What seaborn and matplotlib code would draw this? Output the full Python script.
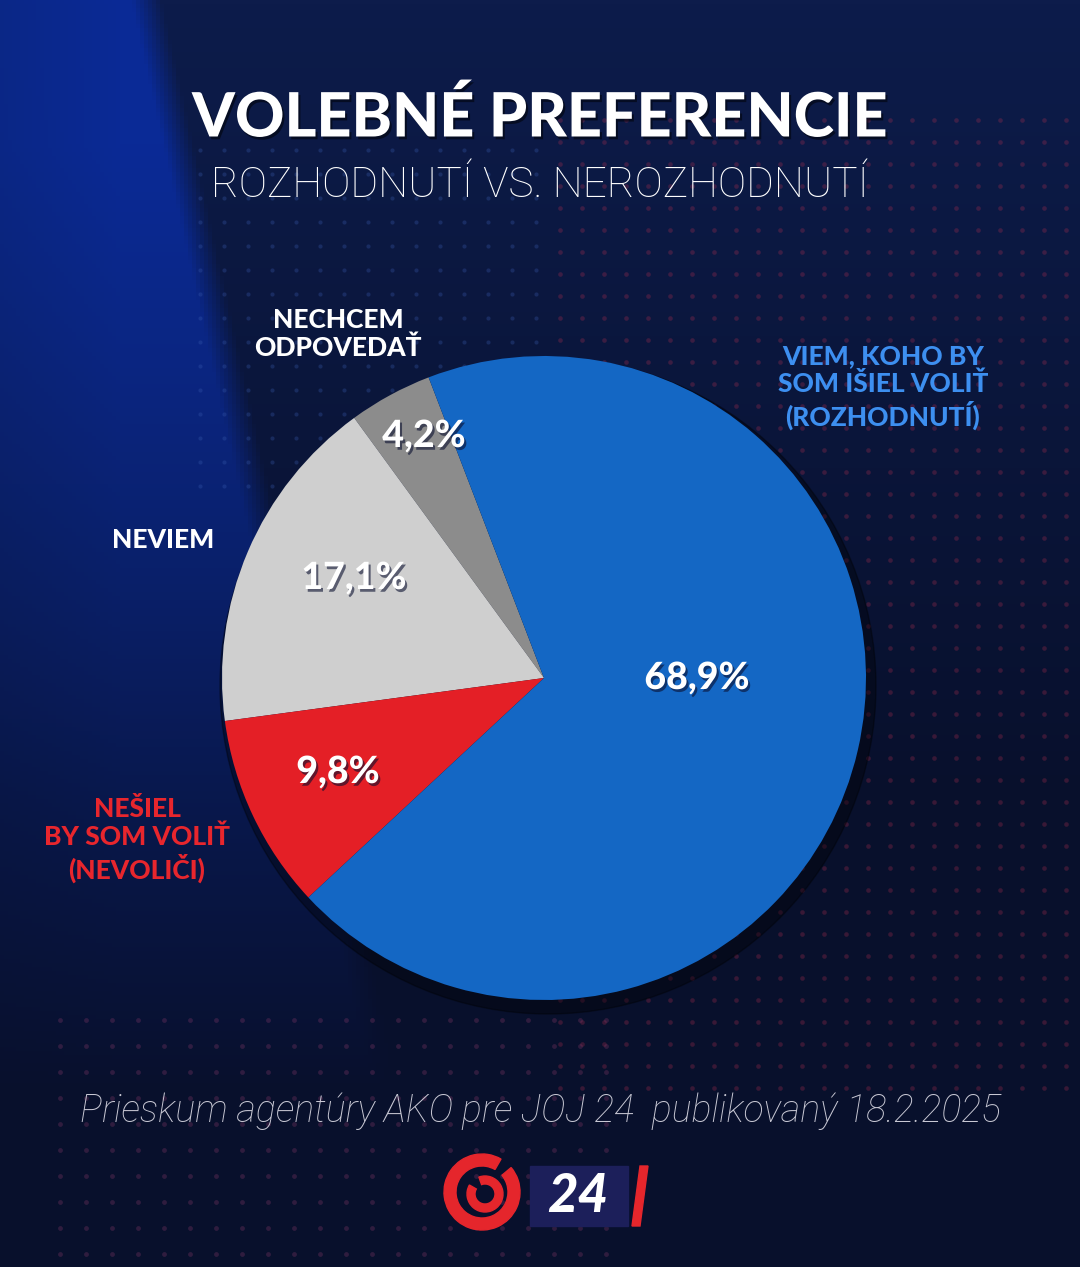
import numpy as np
import seaborn as sns
import matplotlib.pyplot as plt
import matplotlib.patheffects as pe
from matplotlib.patches import Wedge, Rectangle, Polygon, Circle

# data
labels = ["NECHCEM\nODPOVEDAŤ", "NEVIEM", "NEŠIEL\nBY SOM VOLIŤ\n(NEVOLIČI)",
          "VIEM, KOHO BY\nSOM IŠIEL VOLIŤ\n(ROZHODNUTÍ)"]
shares = [4.2, 17.1, 9.8, 68.9]
slice_colors = ["#8c8c8c", "#cfcfcf", "#e41f26", "#1467c4"]
label_colors = ["white", "white", "#e8262d", "#3d8ff0"]
pct_text = ["4,2%", "17,1%", "9,8%", "68,9%"]

title = "VOLEBNÉ PREFERENCIE"
subtitle = "ROZHODNUTÍ VS. NEROZHODNUTÍ"
source = "Prieskum agentúry AKO pre JOJ 24  publikovaný 18.2.2025"

sns.set_theme(style="white")
plt.rcParams['font.family'] = ['Lato', 'DejaVu Sans']

W, H = 1080, 1267
fig = plt.figure(figsize=(W / 100, H / 100), dpi=100)
ax = fig.add_axes([0, 0, 1, 1])
ax.set_xlim(0, W)
ax.set_ylim(0, H)
ax.axis("off")

# background: dark navy with a brighter blue band in the upper left
yy, xx = np.mgrid[0:H:4, 0:W:4]
edge = 145 + yy * 0.22
band = np.clip((edge - xx) / 30 + 0.5, 0, 1) * np.clip(1.15 - yy / 950, 0, 1)
band = np.clip(band, 0, 1) * np.clip(0.8 + xx / 600, 0, 1)
base = np.array([8, 16, 44]) / 255
top = np.array([13, 28, 75]) / 255
blue = np.array([10, 42, 150]) / 255
t = np.clip(1 - yy / 800, 0, 1)[..., None]
img = base * (1 - t) + top * t
img = img * (1 - band[..., None]) + blue * band[..., None]
ax.imshow(img, extent=[0, W, 0, H], origin="upper", aspect="auto", zorder=0)

# decorative dot field
gx, gy = np.meshgrid(np.arange(560, 1080, 22), np.arange(120, 1100, 22))
ax.scatter(gx.ravel(), H - gy.ravel(), s=11, color="#b83050", alpha=0.28, lw=0, zorder=1)
gx2, gy2 = np.meshgrid(np.arange(60, 620, 26), np.arange(1020, 1267, 26))
ax.scatter(gx2.ravel(), H - gy2.ravel(), s=12, color="#8a3a6a", alpha=0.3, lw=0, zorder=1)
gx3, gy3 = np.meshgrid(np.arange(200, 560, 24), np.arange(150, 500, 24))
ax.scatter(gx3.ravel(), H - gy3.ravel(), s=9, color="#3a5cb0", alpha=0.3, lw=0, zorder=1)

# pie
cx, cy, r = 544, H - 678, 322
ax.add_patch(Circle((cx + 4, cy - 8), r + 6, color="black", alpha=0.35, zorder=2))
wedges, _ = ax.pie(shares, colors=slice_colors, startangle=111, counterclock=True,
                   center=(cx, cy), radius=r, frame=True,
                   wedgeprops=dict(linewidth=0))
for w in wedges:
    w.set_zorder(3)
ax.set_xlim(0, W)
ax.set_ylim(0, H)
ax.axis("off")

shadow_fx = [pe.withSimplePatchShadow(offset=(1.5, -2), shadow_rgbFace="#0a1030", alpha=0.6)]
pct_pos = [(424, 436), (354, 578), (338, 772), (697, 678)]
for txt, (x, y) in zip(pct_text, pct_pos):
    ax.text(x, H - y, txt, color="white", fontsize=27, fontweight="black",
            ha="center", va="center", zorder=5, path_effects=shadow_fx)

lab_pos = [(338, 334), (163, 540), (137, 840), (883, 387)]
for txt, col, (x, y) in zip(labels, label_colors, lab_pos):
    ax.text(x, H - y, txt, color=col, fontsize=19, fontweight="black",
            ha="center", va="center", linespacing=1.18, zorder=5)

ax.text(540, H - 118, title, color="white", fontsize=44, fontweight="black",
        ha="center", va="center", zorder=5,
        path_effects=[pe.withSimplePatchShadow(offset=(1.5, -2), shadow_rgbFace="black", alpha=0.5)])
ax.text(540, H - 185, subtitle, color="white", fontsize=30.5, fontweight="light",
        family=["Roboto", "DejaVu Sans"], ha="center", va="center", zorder=5)
ax.text(540, H - 1111, source, color="#c8c8d4", fontsize=27, fontstyle="italic",
        fontweight="light", family=["Roboto", "DejaVu Sans"],
        ha="center", va="center", zorder=5)

# JOJ 24 logo
lx, ly = 482, H - 1192
ax.add_patch(Wedge((lx, ly), 38, 60, 400, width=12, color="#e5262c", zorder=5))
ax.add_patch(Wedge((lx + 3, ly - 2), 18, 150, 470, width=8, color="#e5262c", zorder=5))
ax.add_patch(Rectangle((530, H - 1226), 98, 60, color="#1c1f5a", zorder=5))
ax.text(578, H - 1197, "24", color="white", fontsize=38, fontweight="black",
        fontstyle="italic", ha="center", va="center", zorder=6)
ax.add_patch(Polygon([[632, H - 1226], [640, H - 1226], [648, H - 1166], [640, H - 1166]],
                     closed=True, color="#e5262c", zorder=6))

fig.savefig("out.png", dpi=100)
